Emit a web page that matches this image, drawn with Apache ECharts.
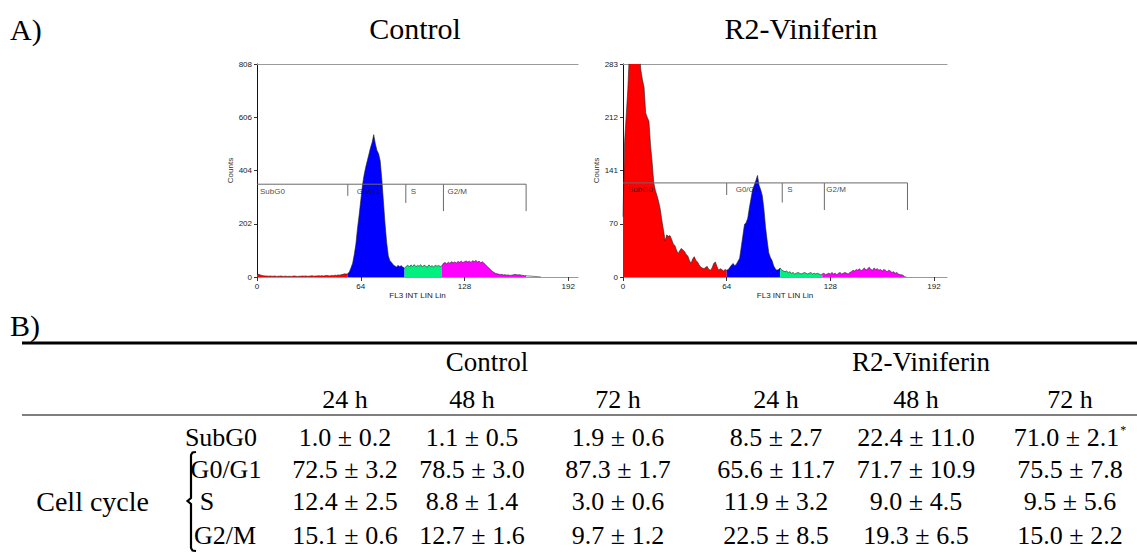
<!DOCTYPE html>
<html><head><meta charset="utf-8">
<script src="https://cdn.jsdelivr.net/npm/echarts@6/dist/echarts.min.js"></script>
<style>html,body{margin:0;padding:0;background:#fff}#c{width:1137px;height:552px}</style>
</head><body><div id="c"></div>
<script>
// ---------- DATA ----------
// Histogram counts per FL3 channel (index = channel 0..175)
const controlCounts = [
 9,10,8,6,5,4,4,3,4,3,
 3,4,2,3,3,4,2,3,3,2,
 3,2,3,4,3,2,3,3,4,3,
 4,3,3,4,5,3,4,4,5,4,
 5,4,5,6,5,4,6,5,7,6,
 8,7,9,10,12,11,
 12,20,35,52,85,125,185,235,290,345,
 385,415,440,465,490,510,540,505,480,468,
 440,370,285,200,130,80,62,55,46,42,
 38,44,40,43,37,34,40,45,38,46,
 40,47,39,44,41,47,38,45,42,37,
 46,40,43,38,45,41,44,40,42,52,
 55,50,56,52,58,54,57,53,59,56,
 60,55,58,61,57,60,55,62,58,63,
 57,60,54,58,52,46,40,34,28,22,
 18,14,12,11,9,10,8,9,7,8,
 6,7,8,10,9,8,9,7,6,5,
 5,4,4,3,3,2,2,1,1,0
];
const r2Counts = [
 80,180,215,250,300,310,315,320,318,312,
 300,275,262,252,218,212,207,175,152,125,
 115,108,100,90,75,62,48,56,54,55,
 50,44,42,36,31,35,38,36,34,30,
 28,22,18,24,27,22,20,16,13,12,
 11,13,14,10,9,12,18,20,14,9,
 11,10,8,10,9,10,13,16,18,15,
 17,21,25,40,55,70,72,78,92,104,
 116,122,128,135,122,116,108,90,66,48,
 32,26,22,15,11,9,10,12,9,8,
 7,8,6,7,5,6,4,5,6,5,
 4,5,6,5,4,5,6,4,5,4,
 5,4,3,4,5,3,4,5,4,6,
 4,5,3,5,6,4,5,6,5,4,
 6,7,9,8,10,9,11,8,10,12,
 9,11,13,10,9,12,10,11,9,10,
 8,10,9,7,9,8,6,7,5,6,
 4,3,3,2,0,0
];
// colour-region edges (channels): SubG0 | G0/G1 | S | G2/M
const controlEdges = [0, 56, 91, 114, 166];
const r2Edges = [0, 64, 97, 123, 174];
// gate markers (channels), gate level and end-drop (counts)
const gateNames = ['SubG0', 'G0/G1', 'S', 'G2/M'];
const controlGates = [0, 56, 91.8, 115, 166];
const controlGateLevel = 352;
const controlGateDrops = [308, 281, 250, 250];
const r2Gates = [0, 64, 98.3, 124.3, 175.6];
const r2GateLevel = 125;
const r2GateDrops = [109, 99, 89, 89];
// axis ticks
const xTicks = [0, 64, 128, 192];
const controlYTicks = [0, 202, 404, 606, 808];
const r2YTicks = [0, 70.75, 141.5, 212.25, 283];

// Table
const groups = ['Control', 'R2-Viniferin'];
const timeLabels = ['24 h', '48 h', '72 h', '24 h', '48 h', '72 h'];
const phaseLabels = ['SubG0', 'G0/G1', 'S', 'G2/M'];
const subG0Mean = [1.0, 1.1, 1.9, 8.5, 22.4, 71.0];
const subG0Sd   = [0.2, 0.5, 0.6, 2.7, 11.0, 2.1];
const g0g1Mean  = [72.5, 78.5, 87.3, 65.6, 71.7, 75.5];
const g0g1Sd    = [3.2, 3.0, 1.7, 11.7, 10.9, 7.8];
const sMean     = [12.4, 8.8, 3.0, 11.9, 9.0, 9.5];
const sSd       = [2.5, 1.4, 0.6, 3.2, 4.5, 5.6];
const g2mMean   = [15.1, 12.7, 9.7, 22.5, 19.3, 15.0];
const g2mSd     = [0.6, 1.6, 1.2, 8.5, 6.5, 2.2];
const significant = [[false,false,false,false,false,true],[false,false,false,false,false,false],[false,false,false,false,false,false],[false,false,false,false,false,false]];

// ---------- BUILD ----------
const serif = '"Liberation Serif","Times New Roman",serif';
const sans = '"Liberation Sans",Arial,sans-serif';
const regionColors = ['#ff0000', '#0000ff', '#00f080', '#ff00ff'];

function histSeries(counts, edges, gates, level, drops, gi) {
  const s = [];
  for (let r = 0; r < 4; r++) {
    const a = edges[r], b = edges[r + 1];
    s.push({
      type: 'line', xAxisIndex: gi * 2, yAxisIndex: gi, symbol: 'none', silent: true,
      lineStyle: { width: 0 }, areaStyle: { color: regionColors[r], opacity: 1 },
      data: counts.slice(a, b + 1).map((v, i) => [a + i, v]), z: 2
    });
  }
  s.push({
    type: 'line', xAxisIndex: gi * 2, yAxisIndex: gi, symbol: 'none', silent: true,
    lineStyle: { width: 0.6, color: '#222' },
    data: counts.map((v, i) => [i, v]), z: 3
  });
  for (let k = 0; k < 4; k++) {
    s.push({
      type: 'line', xAxisIndex: gi * 2, yAxisIndex: gi, symbol: 'none', silent: true,
      lineStyle: { width: 1, color: '#6a6a6a' },
      data: [[gates[k], level], [gates[k + 1], level], [gates[k + 1], drops[k]]], z: 4
    });
  }
  const offs = gi === 0 ? [3, 9, 5, 4] : [5, 9, 5, 2];
  s.push({
    type: 'scatter', xAxisIndex: gi * 2, yAxisIndex: gi, symbolSize: 0, silent: true, z: 5,
    data: gates.slice(0, 4).map((x, k) => ({ value: [x, level], name: gateNames[k],
      label: { offset: [offs[k], 7] } })),
    label: { show: true, position: 'right', distance: 0, formatter: p => p.name,
      fontFamily: sans, fontSize: 8, color: '#111' }
  });
  return s;
}

function xAxes(gi, max) {
  return [{
    type: 'value', gridIndex: gi, min: 0, max: max, position: 'bottom',
    axisLine: { show: true, lineStyle: { color: '#999', width: 1 } },
    axisTick: { show: true, customValues: xTicks, length: 4, lineStyle: { color: '#333' } },
    axisLabel: { customValues: xTicks, fontFamily: sans, fontSize: 8, color: '#222', margin: 5 },
    splitLine: { show: false },
    name: 'FL3 INT LIN Lin', nameLocation: 'middle', nameGap: 14,
    nameTextStyle: { fontFamily: sans, fontSize: 8, color: '#222' }
  }, {
    type: 'value', gridIndex: gi, min: 0, max: max, position: 'top',
    axisLine: { show: true, lineStyle: { color: '#999', width: 1.2 } },
    axisTick: { show: false }, axisLabel: { show: false }, splitLine: { show: false }
  }];
}
function yAxis(gi, max, ticks) {
  return {
    type: 'value', gridIndex: gi, min: 0, max: max,
    axisLine: { show: true, lineStyle: { color: '#111', width: 1 } },
    axisTick: { show: true, customValues: ticks, length: 3, lineStyle: { color: '#333' } },
    axisLabel: { customValues: ticks, formatter: v => String(Math.floor(v)),
      fontFamily: sans, fontSize: 8, color: '#222', margin: 5 },
    splitLine: { show: false },
    name: 'Counts', nameLocation: 'middle', nameGap: 23, nameRotate: 90,
    nameTextStyle: { fontFamily: sans, fontSize: 8, color: '#333' }
  };
}

// table graphics
const colX = [345, 472, 618, 776, 916, 1070];
const rowY = [437, 469, 501, 535];
const rowLabelX = [221, 226, 207, 225];
const tableFont = 26;
const g = [];
function txt(t, x, y, size, align) {
  g.push({ type: 'text', x: x, y: y, silent: true,
    style: { text: t, font: size + 'px ' + serif, fill: '#000', align: align || 'center', verticalAlign: 'middle' } });
}
txt('A)', 10, 29, 30, 'left');
txt(groups[0], 415, 28, 30);
txt(groups[1], 801, 28, 30);
txt('B)', 10, 325, 30, 'left');
g.push({ type: 'line', silent: true, shape: { x1: 22, y1: 343, x2: 1137, y2: 343 }, style: { stroke: '#000', lineWidth: 3 } });
txt(groups[0], 487, 362, 27);
txt(groups[1], 921, 362, 27);
timeLabels.forEach((t, i) => txt(t, colX[i], 399, tableFont));
g.push({ type: 'line', silent: true, shape: { x1: 22, y1: 415, x2: 1137, y2: 415 }, style: { stroke: '#555', lineWidth: 1.5 } });
const means = [subG0Mean, g0g1Mean, sMean, g2mMean];
const sds = [subG0Sd, g0g1Sd, sSd, g2mSd];
phaseLabels.forEach((p, r) => {
  txt(p, rowLabelX[r], rowY[r], tableFont);
  means[r].forEach((m, c) => {
    const s = m.toFixed(1) + ' \u00b1 ' + sds[r][c].toFixed(1);
    if (significant[r][c]) {
      g.push({ type: 'text', x: colX[c], y: rowY[r], silent: true,
        style: { text: '{a|' + s + '}{b|*}', align: 'center', verticalAlign: 'middle',
          rich: { a: { font: tableFont + 'px ' + serif, fill: '#000' },
                  b: { font: '12px ' + serif, fill: '#000', verticalAlign: 'top', padding: [0, 0, 10, 1] } } } });
    } else {
      txt(s, colX[c], rowY[r], tableFont);
    }
  });
});
txt('Cell cycle', 149, 501, 28, 'right');
g.push({ type: 'polyline', silent: true,
  shape: { points: [[196, 452], [192.5, 452.5], [191, 455], [191, 498], [187.5, 501], [191, 504], [191, 548], [192.5, 550.5], [196, 551]] },
  style: { stroke: '#000', lineWidth: 2.2, fill: null } });

const option = {
  animation: false,
  backgroundColor: '#fff',
  grid: [
    { left: 257, top: 64, width: 321, height: 213 },
    { left: 623, top: 64, width: 324, height: 213 }
  ],
  xAxis: [].concat(xAxes(0, 198), xAxes(1, 200)),
  yAxis: [yAxis(0, 808, controlYTicks), yAxis(1, 283, r2YTicks)],
  series: [].concat(
    histSeries(controlCounts, controlEdges, controlGates, controlGateLevel, controlGateDrops, 0),
    histSeries(r2Counts, r2Edges, r2Gates, r2GateLevel, r2GateDrops, 1)
  ),
  graphic: g
};
const chart = echarts.init(document.getElementById('c'), null, { renderer: 'svg' });
chart.setOption(option);
</script></body></html>
